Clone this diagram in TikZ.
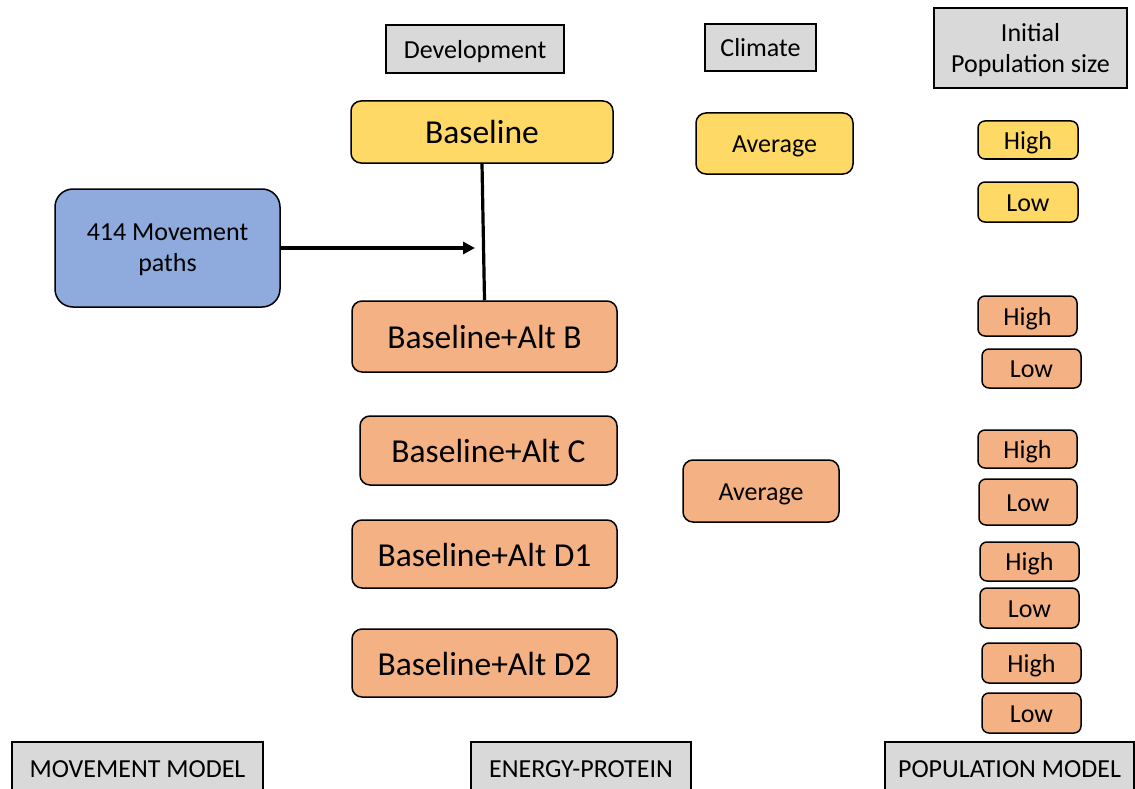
\documentclass[tikz,border=0pt]{standalone}
\usepackage{fontspec}
\setmainfont{Carlito}
\usetikzlibrary{arrows.meta}
\definecolor{ygold}{HTML}{FFD966}
\definecolor{orng}{HTML}{F4B183}
\definecolor{blu}{HTML}{8FAADC}
\definecolor{gry}{HTML}{D9D9D9}
\tikzset{
  base/.style={draw=black, line width=1.5pt, inner sep=0pt, anchor=center, align=center,
    font=\fontsize{26}{31}\selectfont, text depth=0pt},
  one/.style={text height=18.5pt},
  hdr/.style={base, fill=gry},
  big/.style={font=\fontsize{33.5}{38}\selectfont, text height=24pt},
  ybox/.style={base, one, fill=ygold, rounded corners=10pt},
  obox/.style={base, one, fill=orng, rounded corners=10pt},
  ysm/.style={base, one, fill=ygold, rounded corners=7pt},
  osm/.style={base, one, fill=orng, rounded corners=7pt},
  bbox/.style={base, fill=blu, rounded corners=18pt},
  conn/.style={line width=3.2pt, black},
}
\begin{document}
\begin{tikzpicture}[x=1pt,y=-1pt]
\clip (0,0) rectangle (1135,789);
\fill[white] (0,0) rectangle (1135,789);
% headers
\node[hdr, one, minimum width=178pt, minimum height=48pt] (dev) at (475,49) {Development};
\node[hdr, one, minimum width=111pt, minimum height=47pt] (clim) at (760.5,47.5) {Climate};
\node[hdr, minimum width=193pt, minimum height=80pt] (ips) at (1030.5,48) {Initial\\Population size};
% yellow
\node[ybox, big, minimum width=262pt, minimum height=62pt] (bl) at (482,132) {Baseline};
\node[ybox, minimum width=157pt, minimum height=61pt] (avgY) at (774.5,143.5) {Average};
\node[ysm, minimum width=100pt, minimum height=38pt] (hiY) at (1028,140) {High};
\node[ysm, minimum width=100pt, minimum height=40pt] (loY) at (1028,202) {Low};
% blue
\node[bbox, minimum width=225pt, minimum height=118pt] (mp) at (167.5,248) {414 Movement\\paths};
% orange
\node[obox, big, minimum width=265pt, minimum height=71pt] (altB) at (484.5,336.5) {Baseline+Alt B};
\node[osm, minimum width=99pt, minimum height=40pt] (hi1) at (1027.5,316) {High};
\node[osm, minimum width=99pt, minimum height=39pt] (lo1) at (1031.5,368.5) {Low};
\node[obox, big, minimum width=257pt, minimum height=69pt] (altC) at (488.5,450.5) {Baseline+Alt C};
\node[obox, minimum width=156pt, minimum height=62pt] (avgO) at (761,491) {Average};
\node[osm, minimum width=99pt, minimum height=38pt] (hi2) at (1027.5,449) {High};
\node[osm, minimum width=98pt, minimum height=46pt] (lo2) at (1028,502) {Low};
\node[obox, big, minimum width=265pt, minimum height=68pt] (altD1) at (484.5,554) {Baseline+Alt D1};
\node[osm, minimum width=99pt, minimum height=39pt] (hi3) at (1029.5,561.5) {High};
\node[osm, minimum width=99pt, minimum height=40pt] (lo3) at (1029.5,608) {Low};
\node[obox, big, minimum width=265pt, minimum height=68pt] (altD2) at (484.5,663) {Baseline+Alt D2};
\node[osm, minimum width=99pt, minimum height=40pt] (hi4) at (1031.5,663) {High};
\node[osm, minimum width=99pt, minimum height=40pt] (lo4) at (1031.5,713) {Low};
% bottom labels
\node[hdr, one, minimum width=251pt, minimum height=52pt] (mm) at (137.5,768) {MOVEMENT MODEL};
\node[hdr, one, minimum width=220pt, minimum height=52pt] (ep) at (581,768) {ENERGY-PROTEIN};
\node[hdr, one, minimum width=249pt, minimum height=52pt] (pm) at (1009.5,768) {POPULATION MODEL};
% connectors
\coordinate (tip) at (475,248);
\draw[conn] (bl.south) -- (altB.north);
\draw[conn, -{Triangle[length=12pt,width=12pt]}] (mp.east) -- (tip);
\end{tikzpicture}
\end{document}
